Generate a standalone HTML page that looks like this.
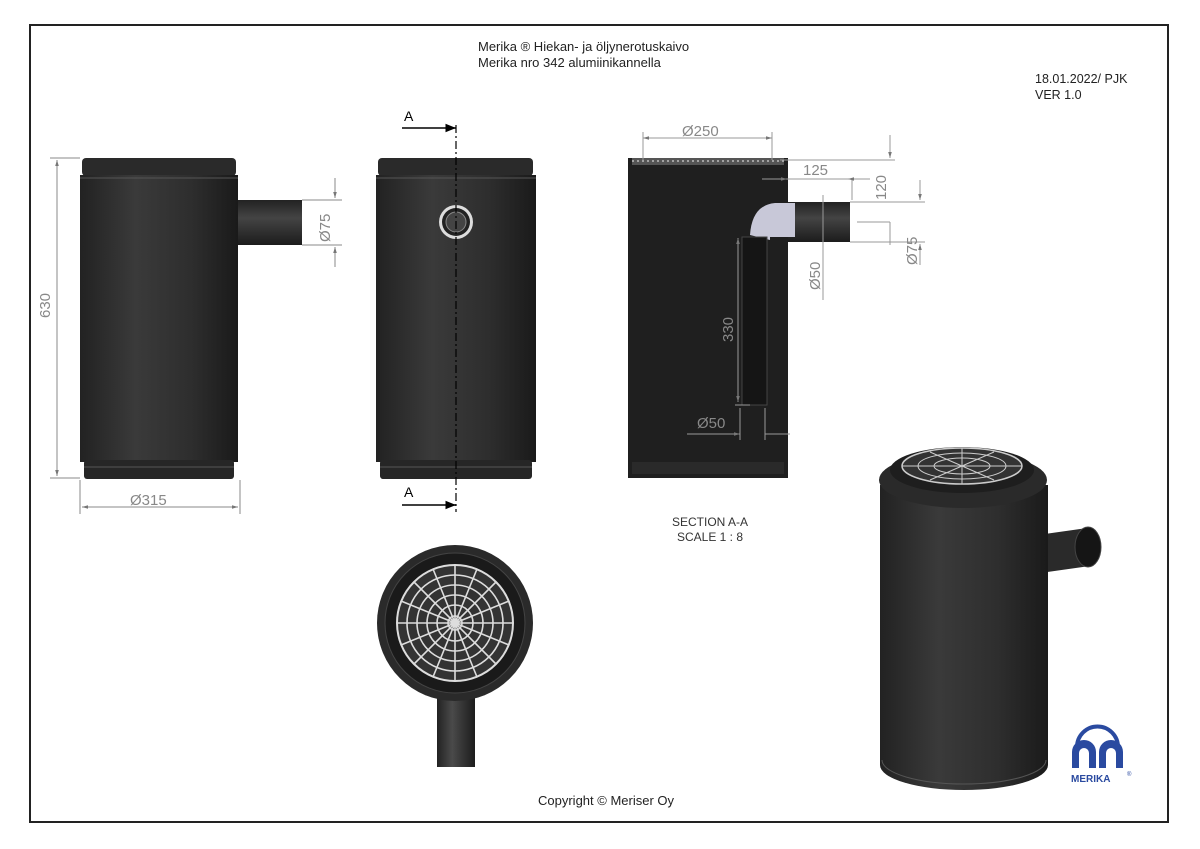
<!DOCTYPE html>
<html><head><meta charset="utf-8"><style>
html,body{margin:0;padding:0;background:#fff;}
svg{display:block;font-family:"Liberation Sans",sans-serif;}
</style></head><body>
<svg width="1200" height="849" viewBox="0 0 1200 849" xmlns="http://www.w3.org/2000/svg">
<defs>
<linearGradient id="cyl" x1="0" x2="1" y1="0" y2="0">
<stop offset="0" stop-color="#222"/><stop offset="0.35" stop-color="#3a3a3a"/><stop offset="0.7" stop-color="#2e2e2e"/><stop offset="1" stop-color="#1a1a1a"/></linearGradient>
<linearGradient id="pipeV" x1="0" x2="0" y1="0" y2="1">
<stop offset="0" stop-color="#222"/><stop offset="0.4" stop-color="#444"/><stop offset="1" stop-color="#1c1c1c"/></linearGradient>
<linearGradient id="pipeH" x1="0" x2="1" y1="0" y2="0">
<stop offset="0" stop-color="#222"/><stop offset="0.4" stop-color="#4a4a4a"/><stop offset="1" stop-color="#1c1c1c"/></linearGradient>
<marker id="ar" viewBox="0 0 10 10" refX="10" refY="5" markerWidth="8" markerHeight="6" orient="auto-start-reverse"><path d="M0,2 L10,5 L0,8z" fill="#777"/></marker>
<marker id="ab" viewBox="0 0 10 10" refX="10" refY="5" markerWidth="9" markerHeight="7" orient="auto"><path d="M0,1 L10,5 L0,9z" fill="#000"/></marker>
</defs>
<rect x="30" y="25" width="1138" height="797" fill="none" stroke="#222" stroke-width="2"/>
<text x="478" y="51" font-size="13" fill="#222">Merika ® Hiekan- ja öljynerotuskaivo</text>
<text x="478" y="67" font-size="13" fill="#222">Merika nro  342 alumiinikannella</text>
<text x="1035" y="83" font-size="12.5" fill="#222">18.01.2022/ PJK</text>
<text x="1035" y="99" font-size="12.5" fill="#222">VER 1.0</text>

<!-- Front view -->
<g>
<rect x="238" y="200" width="64" height="45" fill="url(#pipeV)"/>
<rect x="82" y="158" width="154" height="18" rx="4" fill="#2a2a2a"/>
<rect x="80" y="175" width="158" height="287" fill="url(#cyl)"/>
<line x1="80" y1="178" x2="238" y2="178" stroke="#555"/>
<rect x="84" y="460" width="150" height="19" rx="3" fill="#262626"/>
<line x1="84" y1="467" x2="234" y2="467" stroke="#555"/>
</g>
<g stroke="#888" stroke-width="1" fill="none">
<line x1="50" y1="158" x2="80" y2="158"/><line x1="50" y1="478" x2="80" y2="478"/>
<line x1="57" y1="160" x2="57" y2="476" marker-start="url(#ar)" marker-end="url(#ar)"/>
<line x1="80" y1="480" x2="80" y2="514"/><line x1="240" y1="480" x2="240" y2="514"/>
<line x1="82" y1="507" x2="238" y2="507" marker-start="url(#ar)" marker-end="url(#ar)"/>
<line x1="302" y1="200" x2="342" y2="200"/><line x1="302" y1="245" x2="342" y2="245"/>
<line x1="335" y1="178" x2="335" y2="198" marker-end="url(#ar)"/><line x1="335" y1="267" x2="335" y2="247" marker-end="url(#ar)"/>
</g>
<text transform="translate(50,318) rotate(-90)" font-size="15" fill="#888">630</text>
<text x="130" y="505" font-size="15" fill="#888">Ø315</text>
<text transform="translate(330,242) rotate(-90)" font-size="15" fill="#888">Ø75</text>

<!-- Middle view -->
<rect x="378" y="158" width="155" height="18" rx="4" fill="#2a2a2a"/>
<rect x="376" y="175" width="160" height="287" fill="url(#cyl)"/>
<line x1="376" y1="178" x2="536" y2="178" stroke="#555"/>
<rect x="380" y="460" width="152" height="19" rx="3" fill="#262626"/>
<line x1="380" y1="467" x2="532" y2="467" stroke="#555"/>
<circle cx="456" cy="222" r="17" fill="#ddd"/><circle cx="456" cy="222" r="14" fill="#222"/><circle cx="456" cy="222" r="10" fill="#444" stroke="#888"/>
<line x1="456" y1="125" x2="456" y2="512" stroke="#000" stroke-width="1.2" stroke-dasharray="8,3,2,3"/>
<line x1="402" y1="128" x2="456" y2="128" stroke="#000" stroke-width="1.5" marker-end="url(#ab)"/>
<line x1="402" y1="505" x2="456" y2="505" stroke="#000" stroke-width="1.5" marker-end="url(#ab)"/>
<text x="404" y="121" font-size="14">A</text>
<text x="404" y="497" font-size="14">A</text>

<!-- Section view -->
<rect x="628" y="158" width="160" height="320" fill="#1f1f1f"/>
<rect x="632" y="158" width="152" height="7" fill="#555"/>
<path d="M632,161 h152" stroke="#bbb" stroke-width="1.5" stroke-dasharray="2,3"/>
<rect x="632" y="462" width="152" height="12" fill="#2a2a2a"/>
<rect x="788" y="202" width="62" height="40" fill="url(#pipeV)"/>
<path d="M750,235 Q752,205 775,203 L795,203 L795,237 L770,237 L770,240 z" fill="#c8c8d8"/>
<rect x="742" y="237" width="25" height="168" fill="#151515" stroke="#444"/>
<g stroke="#999" stroke-width="1" fill="none">
<line x1="643" y1="138" x2="772" y2="138" marker-start="url(#ar)" marker-end="url(#ar)"/>
<line x1="643" y1="132" x2="643" y2="160"/><line x1="772" y1="132" x2="772" y2="160"/>
<line x1="780" y1="160" x2="895" y2="160"/>
<line x1="762" y1="179" x2="787" y2="179" marker-end="url(#ar)"/>
<line x1="787" y1="179" x2="852" y2="179"/>
<line x1="852" y1="179" x2="852" y2="200"/><line x1="848" y1="179" x2="870" y2="179" marker-start="url(#ar)"/>
<line x1="890" y1="135" x2="890" y2="158" marker-end="url(#ar)"/>
<line x1="890" y1="245" x2="890" y2="222"/>
<line x1="850" y1="202" x2="925" y2="202"/><line x1="850" y1="242" x2="925" y2="242"/>
<line x1="857" y1="222" x2="890" y2="222"/>
<line x1="920" y1="180" x2="920" y2="200" marker-end="url(#ar)"/><line x1="920" y1="265" x2="920" y2="244" marker-end="url(#ar)"/>
<line x1="823" y1="195" x2="823" y2="300"/>
<line x1="738" y1="238" x2="738" y2="402" marker-start="url(#ar)" marker-end="url(#ar)"/>
<line x1="735" y1="405" x2="750" y2="405"/>
<line x1="740" y1="408" x2="740" y2="440"/><line x1="765" y1="408" x2="765" y2="440"/>
<line x1="687" y1="434" x2="740" y2="434" marker-end="url(#ar)"/><line x1="765" y1="434" x2="790" y2="434"/>
</g>
<text x="682" y="136" font-size="15" fill="#888">Ø250</text>
<text x="803" y="175" font-size="15" fill="#888">125</text>
<text transform="translate(886,200) rotate(-90)" font-size="15" fill="#888">120</text>
<text transform="translate(917,265) rotate(-90)" font-size="15" fill="#888">Ø75</text>
<text transform="translate(820,290) rotate(-90)" font-size="15" fill="#888">Ø50</text>
<text transform="translate(733,342) rotate(-90)" font-size="15" fill="#888">330</text>
<text x="697" y="428" font-size="15" fill="#888">Ø50</text>
<text x="710" y="526" font-size="12" fill="#333" text-anchor="middle">SECTION A-A</text>
<text x="710" y="541" font-size="12" fill="#333" text-anchor="middle">SCALE 1 : 8</text>

<!-- Top view -->
<rect x="437" y="690" width="38" height="77" fill="url(#pipeH)"/>
<circle cx="455" cy="623" r="78" fill="#2a2a2a"/>
<circle cx="455" cy="623" r="70" fill="#1a1a1a" stroke="#444"/>
<circle cx="455" cy="623" r="58" fill="#333" stroke="#ddd" stroke-width="2"/>
<g stroke="#ddd" stroke-width="1.6" fill="none">
<circle cx="455" cy="623" r="48"/><circle cx="455" cy="623" r="38"/><circle cx="455" cy="623" r="28"/><circle cx="455" cy="623" r="18"/><circle cx="455" cy="623" r="7"/>
<path d="M455,565V681M397,623H513M414,582L496,664M496,582L414,664M433,569L477,677M477,569L433,677M401,601L509,645M509,601L401,645"/>
</g>

<!-- Iso view -->
<rect x="1040" y="532" width="50" height="38" fill="#2a2a2a" transform="rotate(-8 1060 550)"/>
<ellipse cx="1088" cy="547" rx="13" ry="20" fill="#151515" stroke="#444"/>
<path d="M880,485 L880,765 A84,25 0 0 0 1048,765 L1048,485 z" fill="url(#cyl)"/>
<path d="M882,760 A82,24 0 0 0 1046,760" stroke="#555" fill="none"/>
<ellipse cx="963" cy="480" rx="84" ry="28" fill="#2a2a2a"/>
<ellipse cx="962" cy="470" rx="72" ry="23" fill="#1e1e1e"/>
<ellipse cx="962" cy="466" rx="60" ry="18" fill="#333" stroke="#ccc" stroke-width="1.5"/>
<g stroke="#ccc" fill="none">
<ellipse cx="962" cy="466" rx="44" ry="13"/><ellipse cx="962" cy="466" rx="28" ry="8"/>
<path d="M962,448V484M902,466H1022M930,452L994,480M994,452L930,480"/>
</g>

<!-- Logo -->
<g fill="#2a4aa0">
<path d="M1072,768 V752 A12,12 0 0 1 1096,752 V768 H1089 V753 A5,5 0 0 0 1079,753 V768z"/>
<path d="M1099,768 V752 A12,12 0 0 1 1123,752 V768 H1116 V753 A5,5 0 0 0 1106,753 V768z"/>
<path d="M1077,747 A20,20 0 0 1 1118,747" stroke="#2a4aa0" stroke-width="4" fill="none"/>
</g>
<text x="1071" y="782" font-size="10" font-weight="bold" fill="#2a4aa0">MERIKA</text>
<text x="1127" y="776" font-size="6" fill="#2a4aa0">®</text>

<text x="538" y="805" font-size="13" fill="#222">Copyright © Meriser Oy</text>
</svg>
</body></html>
